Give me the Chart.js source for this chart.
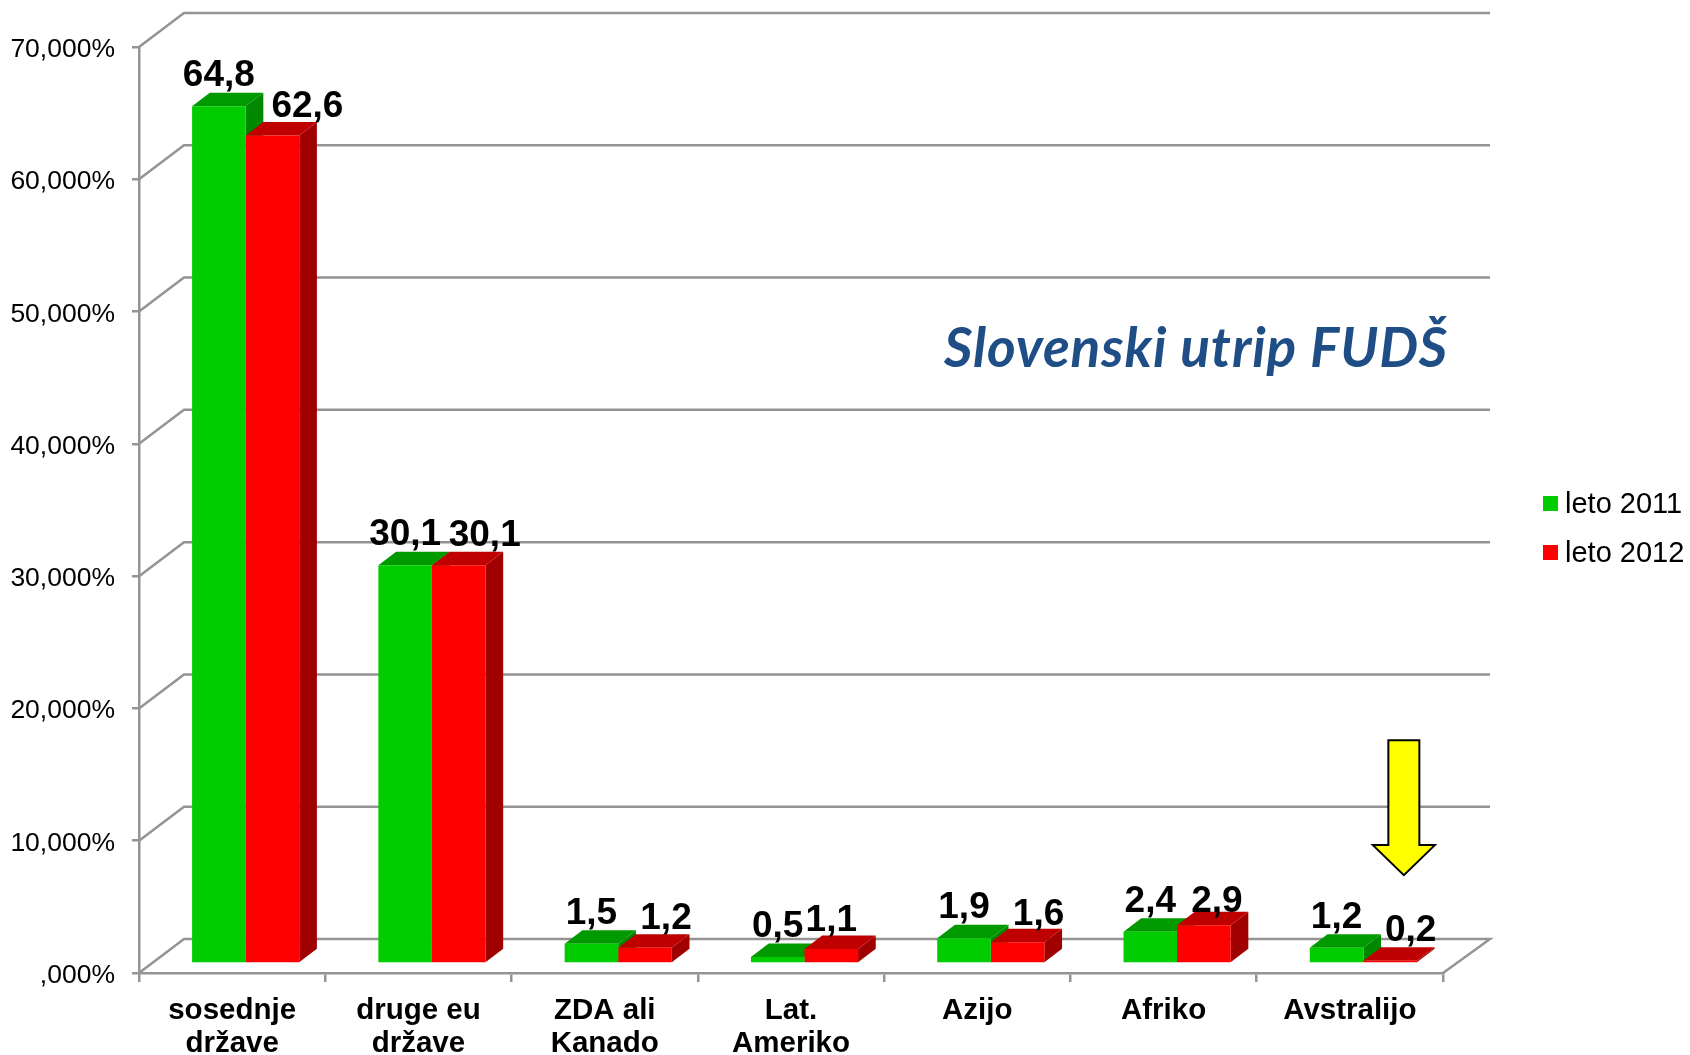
<!DOCTYPE html>
<html>
<head>
<meta charset="utf-8">
<title>Slovenski utrip FUDŠ</title>
<script src="https://cdn.jsdelivr.net/npm/chart.js@4"></script>
<style>
    html, body { margin: 0; background: #fff; }
    canvas { display: block; }
</style>
</head>
<body>
<canvas id="chart1" width="1690" height="1055"></canvas>
<script>
const categories = [['sosednje', 'države'], ['druge eu', 'države'], ['ZDA ali', 'Kanado'], ['Lat.', 'Ameriko'], 'Azijo', 'Afriko', 'Avstralijo'];
const leto2011 = [64.8, 30.1, 1.5, 0.5, 1.9, 2.4, 1.2];
const leto2012 = [62.6, 30.1, 1.2, 1.1, 1.6, 2.9, 0.2];
const arrowValues = [17.6, 7.4]; // top and tip of the yellow arrow, in axis units
const titleText = 'Slovenski utrip FUDŠ';

const green = '#00cc00';
const red = '#ff0000';
const gridColor = '#949494';
const font = 'Liberation Sans, Arial, sans-serif';

// 3d look: bars stand a bit inside the floor, walls go further back
const wallX = 45, wallY = 34;
const barShiftX = 13.5, barShiftY = 9.5;
const depthX = 17.7, depthY = 13.5;
const faces = [
    { side: '#008800', top: '#009a00' },
    { side: '#a00000', top: '#bf0000' }
];
// labels of the second series are moved by hand in the original
const nudge2012X = [35, 26, 21, 0, 21, 13, 20.5];
const rise2012 = [18, 19, 19, 18, 17, 13, 20];

const box3d = {
    id: 'box3d',
    beforeDatasetsDraw(chart) {
        const { ctx, chartArea: area, scales: { x, y } } = chart;
        ctx.save();
        ctx.strokeStyle = gridColor;
        ctx.lineWidth = 2.5;
        y.ticks.forEach(t => {
            const py = y.getPixelForValue(t.value);
            ctx.beginPath();
            ctx.moveTo(area.left, py);
            ctx.lineTo(area.left + wallX, py - wallY);
            ctx.lineTo(area.right + wallX + 2, py - wallY);
            if (t.value === 0) ctx.lineTo(area.right, py);
            ctx.stroke();
        });
        ctx.restore();

        // sides and tops first, front faces are then drawn by chart.js on top
        ctx.save();
        ctx.translate(barShiftX, -barShiftY);
        categories.forEach((c, i) => {
            [0, 1].forEach(d => {
                const bar = chart.getDatasetMeta(d).data[i];
                const l = bar.x - bar.width / 2, r = bar.x + bar.width / 2;
                ctx.fillStyle = faces[d].side;
                ctx.beginPath();
                ctx.moveTo(r, bar.y);
                ctx.lineTo(r + depthX, bar.y - depthY);
                ctx.lineTo(r + depthX, bar.base - depthY);
                ctx.lineTo(r, bar.base);
                ctx.fill();
                ctx.fillStyle = faces[d].top;
                ctx.beginPath();
                ctx.moveTo(l, bar.y);
                ctx.lineTo(l + depthX, bar.y - depthY);
                ctx.lineTo(r + depthX, bar.y - depthY);
                ctx.lineTo(r, bar.y);
                ctx.fill();
            });
        });
    },
    afterDatasetsDraw(chart) {
        const { ctx, scales: { x, y } } = chart;
        ctx.restore();

        // value labels
        ctx.save();
        ctx.fillStyle = '#000';
        ctx.font = 'bold 37px ' + font;
        ctx.textAlign = 'center';
        chart.data.datasets.forEach((ds, d) => {
            chart.getDatasetMeta(d).data.forEach((bar, i) => {
                const txt = ds.data[i].toFixed(1).replace('.', ',');
                const px = bar.x + barShiftX + (d ? nudge2012X[i] : 0);
                const py = bar.y - barShiftY - (d ? rise2012[i] : 20);
                ctx.fillText(txt, px, py);
            });
        });
        ctx.restore();

        // yellow arrow over the last category
        const ax = x.getPixelForValue(6) + 54;
        const top = y.getPixelForValue(arrowValues[0]);
        const tip = y.getPixelForValue(arrowValues[1]);
        ctx.save();
        ctx.fillStyle = '#ffff00';
        ctx.strokeStyle = '#000';
        ctx.lineWidth = 2;
        ctx.beginPath();
        ctx.moveTo(ax - 15.5, top);
        ctx.lineTo(ax + 15.5, top);
        ctx.lineTo(ax + 15.5, tip - 30);
        ctx.lineTo(ax + 31, tip - 30);
        ctx.lineTo(ax, tip);
        ctx.lineTo(ax - 31, tip - 30);
        ctx.lineTo(ax - 15.5, tip - 30);
        ctx.closePath();
        ctx.fill();
        ctx.stroke();
        ctx.restore();

        // logo text
        ctx.save();
        ctx.fillStyle = '#1f4e86';
        ctx.font = 'italic bold 55px Lato, sans-serif';
        ctx.letterSpacing = '0.9px';
        ctx.fillText(titleText, 944, 367);
        ctx.restore();

        // legend
        ctx.save();
        ctx.font = '29px ' + font;
        ctx.textBaseline = 'middle';
        chart.data.datasets.forEach((ds, d) => {
            const ly = 503.5 + d * 49;
            ctx.fillStyle = ds.backgroundColor;
            ctx.fillRect(1543, ly - 7.5, 15, 15);
            ctx.fillStyle = '#000';
            ctx.fillText(ds.label, 1565, ly + 1);
        });
        ctx.restore();
    }
};

const a = document.getElementById('chart1');
new Chart(a, {
    type: 'bar',
    plugins: [box3d],
    data: {
        labels: categories,
        datasets: [{
            label: 'leto 2011',
            data: leto2011,
            backgroundColor: green,
            borderWidth: 0
        },
        {
            label: 'leto 2012',
            data: leto2012,
            backgroundColor: red,
            borderWidth: 0
        }]
    },
    options: {
        responsive: false,
        animation: false,
        barPercentage: 1,
        categoryPercentage: 0.575,
        layout: {
            padding: { top: 47, right: 247 }
        },
        plugins: {
            legend: { display: false },
            tooltip: { enabled: false }
        },
        scales: {
            x: {
                afterFit: s => { s.height = 82; },
                border: { color: gridColor, width: 2.5 },
                grid: { drawOnChartArea: false, color: gridColor, lineWidth: 2.5, tickLength: 9 },
                ticks: {
                    color: '#000',
                    padding: 13,
                    autoSkip: false,
                    maxRotation: 0,
                    font: { family: font, size: 29.5, weight: 'bold', lineHeight: 1.1 }
                }
            },
            y: {
                min: 0,
                max: 70,
                afterFit: s => { s.width = 139; },
                border: { color: gridColor, width: 2.5 },
                grid: { drawOnChartArea: false, color: gridColor, lineWidth: 2.5, tickLength: 7 },
                ticks: {
                    stepSize: 10,
                    color: '#000',
                    padding: 17,
                    // empty first line pushes the text down a little, as in the original
                    font: { family: font, size: 26.5, lineHeight: 0.2 },
                    callback: v => ['', (v === 0 ? '' : v) + ',000%']
                }
            }
        }
    }
});
</script>
</body>
</html>
